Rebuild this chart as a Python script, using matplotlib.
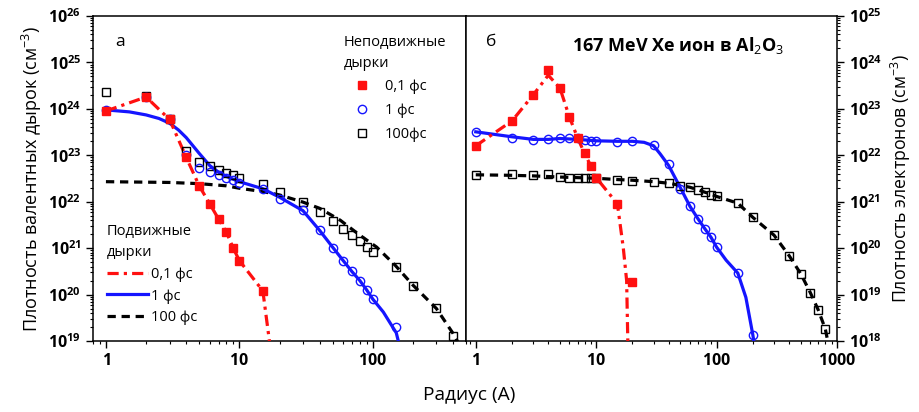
import numpy as np
import matplotlib
matplotlib.use("Agg")
import matplotlib.pyplot as plt
from matplotlib.lines import Line2D
from matplotlib.ticker import LogLocator, FuncFormatter, NullFormatter

plt.rcParams["font.family"] = ["Open Sans", "DejaVu Sans"]
plt.rcParams["mathtext.fontset"] = "custom"
plt.rcParams["mathtext.rm"] = "Open Sans"
plt.rcParams["mathtext.it"] = "Open Sans:italic"
plt.rcParams["mathtext.bf"] = "Open Sans:bold"

# ---- панель а: дырки ----
r_red_a = [1, 2, 3, 4, 5, 6, 7, 8, 9, 10, 15]
n_red_a = [9e23, 1.8e24, 5.9e23, 9e22, 2.2e22, 9e21, 4.2e21, 2.2e21, 1e21, 5.4e20, 1.2e20]

r_blue_a = [1, 2, 3, 4, 5, 6, 7, 8, 9, 10, 15, 20, 30, 40, 50, 60, 70, 80, 90, 100, 150]
n_blue_a = [9.5e23, 1.8e24, 5.9e23, 1e23, 5.4e22, 4.4e22, 3.7e22, 3.3e22, 2.9e22, 2.5e22,
            1.9e22, 1.15e22, 6.5e21, 2.4e21, 1.03e21, 5.4e20, 3.3e20, 2e20, 1.26e20, 8.1e19, 2e19]

r_black_a = [1, 2, 3, 4, 5, 6, 7, 8, 9, 10, 15, 20, 30, 40, 50, 60, 70, 80, 90, 100,
             150, 200, 300, 400]
n_black_a = [2.3e24, 1.9e24, 6e23, 1.26e23, 7e22, 5.8e22, 4.9e22, 4.2e22, 3.7e22, 3.2e22,
             2.4e22, 1.6e22, 9.8e21, 6e21, 3.8e21, 2.6e21, 1.9e21, 1.4e21, 1.05e21, 8.2e20,
             4e20, 1.5e20, 5.1e19, 1.3e19]

# кривые (подвижные дырки)
r_red_line_a = [1, 2, 3, 4, 5, 6, 7, 8, 9, 10, 15, 16.8, 17.6]
n_red_line_a = [9e23, 1.8e24, 5.9e23, 9e22, 2.2e22, 9e21, 4.2e21, 2.2e21, 1e21, 5.4e20,
                1.2e20, 1e19, 1e18]

r_blue_line_a = [1, 1.5, 2, 2.5, 3, 3.5, 4, 5, 6, 7, 8, 10, 15, 20, 30, 40, 50, 60, 70, 80,
                 90, 100, 120, 150, 165]
n_blue_line_a = [9.5e23, 8.6e23, 7.4e23, 6.2e23, 4.9e23, 3.5e23, 2.4e23, 1.1e23, 6e22,
                 4.3e22, 3.5e22, 2.7e22, 1.9e22, 1.25e22, 6.4e21, 2.4e21, 1.05e21, 5.4e20,
                 3.1e20, 2e20, 1.26e20, 8e19, 4.2e19, 1.5e19, 5e18]

r_black_line_a = [1, 3, 5, 8, 10, 15, 20, 30, 40, 57, 80, 107, 147, 200, 300, 400, 430, 470]
n_black_line_a = [2.7e22, 2.6e22, 2.45e22, 2.2e22, 1.95e22, 1.65e22, 1.4e22, 9.8e21, 7.2e21,
                  4e21, 1.9e21, 1.05e21, 4.3e20, 1.6e20, 5e19, 1.45e19, 1e19, 4e18]

# ---- панель б: электроны ----
r_red_b = [1, 2, 3, 4, 5, 6, 7, 8, 9, 10, 15, 20]
n_red_b = [1.6e22, 5.5e22, 2e23, 7e23, 2.8e23, 6.6e22, 2.4e22, 1.1e22, 6e21, 3.3e21,
           9e20, 1.9e19]

r_blue_b = [1, 2, 3, 4, 5, 6, 7, 8, 9, 10, 15, 20, 30, 40, 50, 60, 70, 80, 90, 100, 150, 200]
n_blue_b = [3.2e22, 2.4e22, 2.1e22, 2.2e22, 2.4e22, 2.4e22, 2.3e22, 2.1e22, 2e22, 2e22,
            1.9e22, 2e22, 1.7e22, 6.6e21, 1.9e21, 8e20, 4.3e20, 2.6e20, 1.7e20, 1.05e20,
            2.9e19, 1.35e18]

r_black_b = [1, 2, 3, 4, 5, 6, 7, 8, 9, 10, 15, 20, 30, 40, 50, 60, 70, 80, 90, 100,
             150, 200, 300, 400, 500, 600, 700, 800]
n_black_b = [3.8e21, 3.9e21, 3.8e21, 3.9e21, 3.4e21, 3.2e21, 3.3e21, 3.2e21, 3.3e21, 3.2e21,
             2.9e21, 2.8e21, 2.7e21, 2.5e21, 2.2e21, 2.1e21, 1.8e21, 1.6e21, 1.4e21, 1.3e21,
             9.3e20, 4.6e20, 1.9e20, 6.9e19, 2.8e19, 1.1e19, 4.6e18, 1.8e18]

r_red_line_b = [1, 2, 3, 4, 5, 6, 7, 8, 9, 10, 15, 16.8, 17.9, 18.4]
n_red_line_b = [1.6e22, 5.5e22, 2e23, 5.3e23, 2.8e23, 6.6e22, 2.4e22, 1.1e22, 6e21, 3.3e21,
                9e20, 1e20, 2e19, 5e17]

r_blue_line_b = [1, 2, 3, 4, 5, 7, 10, 15, 20, 25, 30, 34, 40, 50, 60, 70, 80, 90, 100,
                 120, 150, 175, 200, 210]
n_blue_line_b = [3.2e22, 2.5e22, 2.2e22, 2.2e22, 2.3e22, 2.2e22, 2.05e22, 2e22, 2e22,
                 1.9e22, 1.6e22, 1.07e22, 6e21, 2e21, 8e20, 4.3e20, 2.6e20, 1.7e20, 1.05e20,
                 5.5e19, 2.9e19, 8.7e18, 1.35e18, 6e17]

r_black_line_b = [1, 2, 3, 5, 10, 15, 20, 30, 40, 50, 60, 70, 80, 90, 100, 150, 200, 300,
                  400, 500, 600, 700, 800, 860]
n_black_line_b = [3.8e21, 3.7e21, 3.6e21, 3.4e21, 3.2e21, 3e21, 2.9e21, 2.7e21, 2.5e21,
                  2.25e21, 2.05e21, 1.8e21, 1.6e21, 1.45e21, 1.3e21, 9.3e20, 4.6e20, 1.9e20,
                  6.9e19, 2.8e19, 1.1e19, 4.6e18, 1.8e18, 7e17]

RED = "#ff1010"
BLUE = "#1515ff"
LW = 2.3
red_ls = (0, (3.5, 1.6, 1.0, 1.6))
black_ls = (0, (2.6, 1.8))

fig = plt.figure(figsize=(9.19, 4.12), dpi=100)
ax1 = fig.add_axes([0.1012, 0.1723, 0.4059, 0.7889])
ax2 = fig.add_axes([0.5071, 0.1723, 0.4037, 0.7889])

sq = dict(marker="s", ms=5.5, ls="none", mfc="none", mec="black", mew=1.0)
ci = dict(marker="o", ms=6, ls="none", mfc="none", mec=BLUE, mew=1.0)
rs = dict(marker="s", ms=5.5, ls="none", color=RED)

for ax, d in [(ax1, "a"), (ax2, "b")]:
    if d == "a":
        lines = [(r_black_line_a, n_black_line_a), (r_blue_line_a, n_blue_line_a),
                 (r_red_line_a, n_red_line_a)]
        pts = [(r_black_a, n_black_a), (r_blue_a, n_blue_a), (r_red_a, n_red_a)]
    else:
        lines = [(r_black_line_b, n_black_line_b), (r_blue_line_b, n_blue_line_b),
                 (r_red_line_b, n_red_line_b)]
        pts = [(r_black_b, n_black_b), (r_blue_b, n_blue_b), (r_red_b, n_red_b)]
    ax.plot(*lines[0], color="black", lw=LW, ls=black_ls, zorder=3)
    ax.plot(*lines[1], color=BLUE, lw=LW, zorder=3)
    ax.plot(*lines[2], color=RED, lw=LW, ls=red_ls, zorder=3)
    ax.plot(*pts[0], zorder=4, **sq)
    ax.plot(*pts[1], zorder=4, **ci)
    ax.plot(*pts[2], zorder=5, **rs)
    ax.set_xscale("log")
    ax.set_yscale("log")

ax1.set_xlim(0.8, 500)
ax1.set_ylim(1e19, 1e26)
ax2.set_xlim(0.83, 1000)
ax2.set_ylim(1e18, 1e25)


def ylab(v, p):
    return r"$\mathbf{10^{%d}}$" % int(round(np.log10(v)))


def xlab(v, p):
    return r"$\mathbf{%d}$" % int(round(v))


for ax in (ax1, ax2):
    ax.xaxis.set_major_locator(LogLocator(base=10, numticks=10))
    ax.xaxis.set_minor_locator(LogLocator(base=10, subs=range(2, 10), numticks=20))
    ax.yaxis.set_major_locator(LogLocator(base=10, numticks=10))
    ax.yaxis.set_minor_locator(LogLocator(base=10, subs=range(2, 10), numticks=20))
    ax.xaxis.set_major_formatter(FuncFormatter(xlab))
    ax.xaxis.set_minor_formatter(NullFormatter())
    ax.yaxis.set_major_formatter(FuncFormatter(ylab))
    ax.yaxis.set_minor_formatter(NullFormatter())
    ax.tick_params(which="major", direction="out", length=5, width=1, labelsize=11.5)
    ax.tick_params(which="minor", direction="out", length=2.5, width=0.8)
    for s in ax.spines.values():
        s.set_linewidth(1.1)

ax1.tick_params(axis="y", which="both", left=True, right=False)
ax2.yaxis.tick_right()
ax2.tick_params(axis="y", which="both", left=False, right=True)

ax1.set_ylabel("Плотность валентных дырок (см$^{-3}$)", fontsize=13, labelpad=3)
ax2.yaxis.set_label_position("right")
ax2.set_ylabel("Плотность электронов (см$^{-3}$)", fontsize=12.8, labelpad=5)
fig.text(0.511, 0.041, "Радиус (А)", fontsize=13.8, ha="center", va="center")

ax1.text(0.06, 0.92, "а", transform=ax1.transAxes, fontsize=12.5, va="center")
ax2.text(0.055, 0.92, "б", transform=ax2.transAxes, fontsize=12.5, va="center")
ax2.text(0.573, 0.91, "167 MeV Xe ион в Al$_2$O$_3$", transform=ax2.transAxes,
         fontsize=13, fontweight="bold", ha="center", va="center")

# легенда: неподвижные дырки (точки)
h_pts = [Line2D([], [], **rs), Line2D([], [], **ci), Line2D([], [], **sq)]
leg1 = ax1.legend(h_pts, ["0,1 фс", "1 фс", "100фс"], title="Неподвижные\nдырки",
                  loc="upper left", bbox_to_anchor=(0.665, 0.95), frameon=False,
                  fontsize=10.5, title_fontsize=10.5, alignment="left",
                  handlelength=2.5, handletextpad=0.3, labelspacing=0.6,
                  borderpad=0.2, borderaxespad=0)
leg1.get_title().set_linespacing(1.5)
ax1.add_artist(leg1)

# легенда: подвижные дырки (линии)
h_lines = [Line2D([], [], color=RED, lw=LW, ls=red_ls),
           Line2D([], [], color=BLUE, lw=LW),
           Line2D([], [], color="black", lw=LW, ls=black_ls)]
leg2 = ax1.legend(h_lines, ["0,1 фс", "1 фс", "100 фс"], title="Подвижные\nдырки",
                  loc="lower left", bbox_to_anchor=(0.03, 0.04), frameon=False,
                  fontsize=10.5, title_fontsize=10.5, alignment="left",
                  handlelength=2.8, handletextpad=0.2, labelspacing=0.45,
                  borderpad=0.2, borderaxespad=0)
leg2.get_title().set_linespacing(1.6)

fig.savefig("out.png", dpi=100)
